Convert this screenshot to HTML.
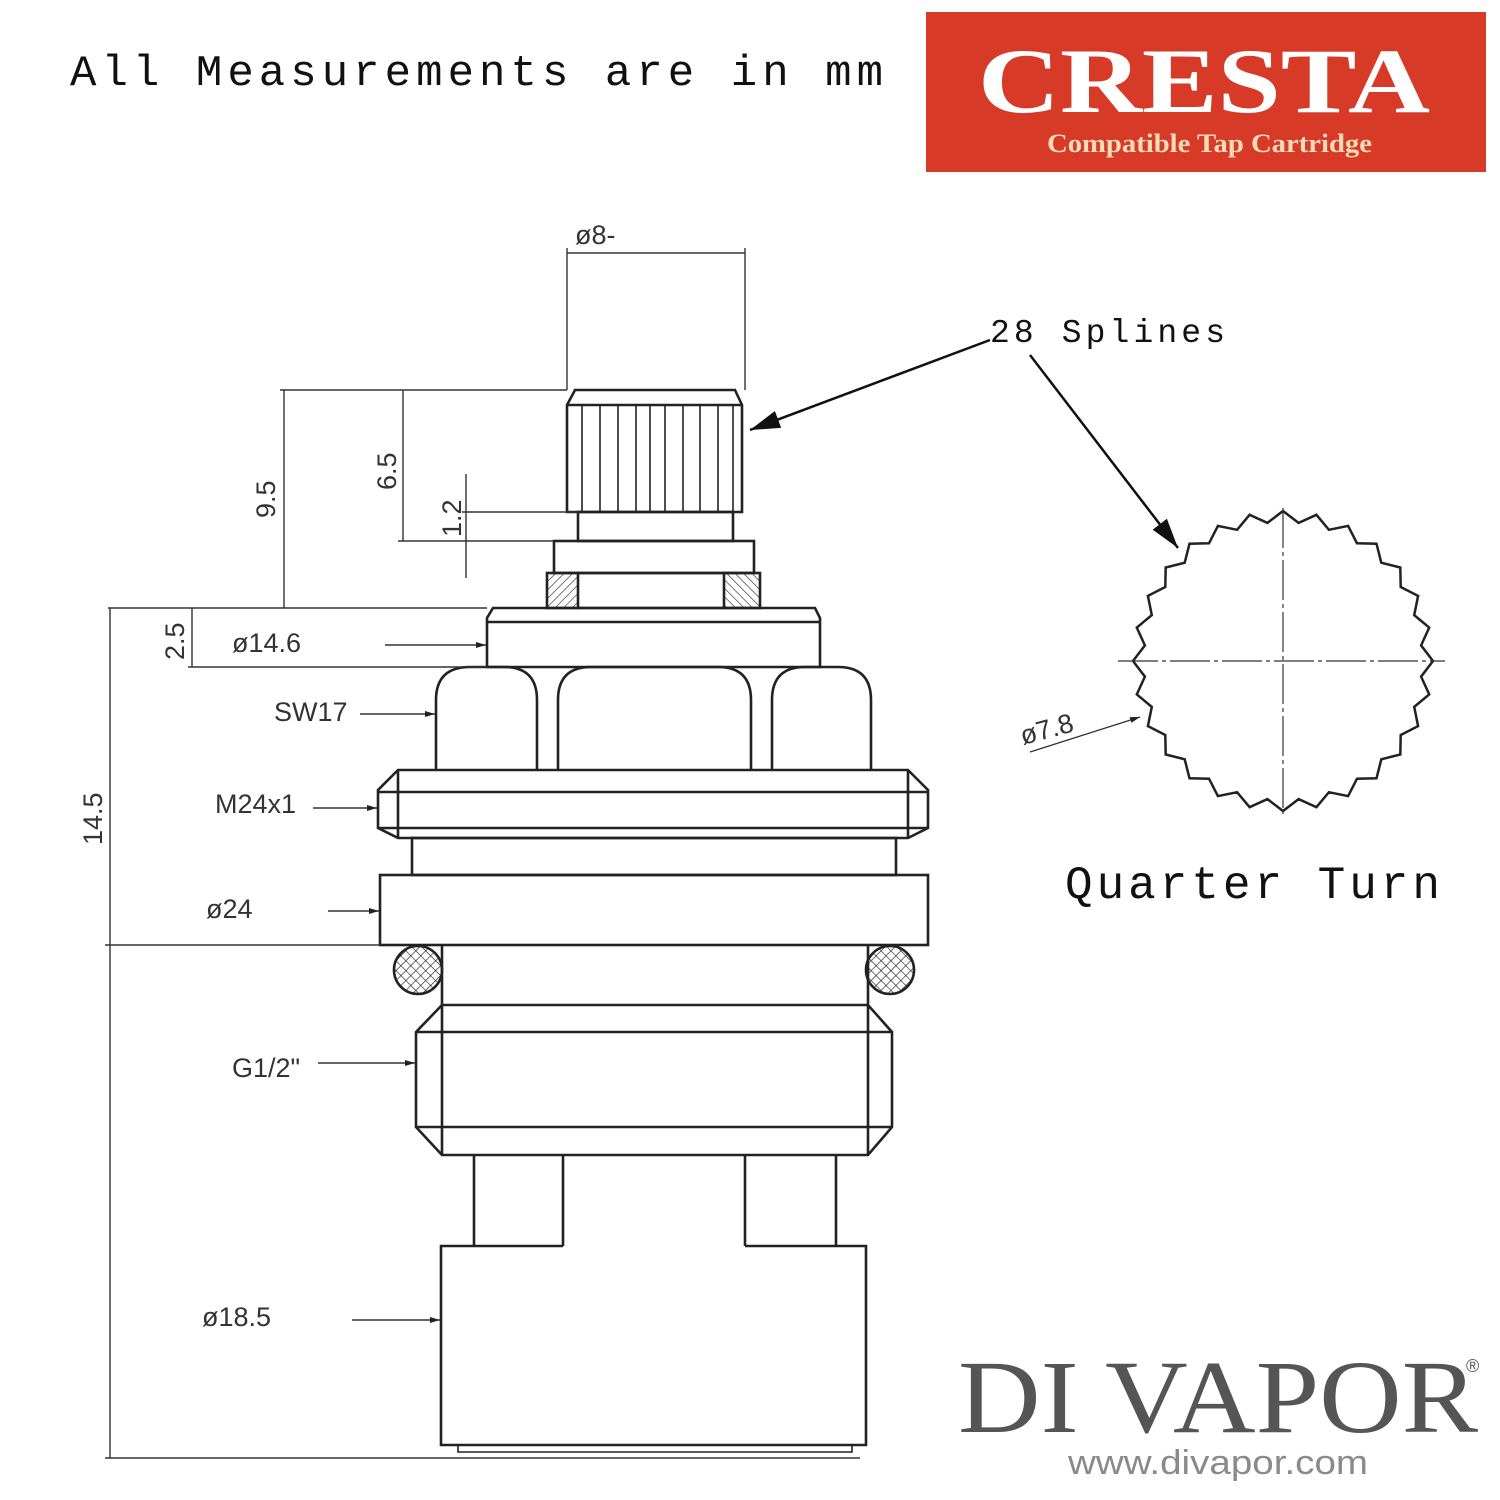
<!DOCTYPE html>
<html><head><meta charset="utf-8"><style>
body{margin:0;background:#fff;}
svg{display:block}
.m{font-family:"Liberation Mono",monospace;fill:#111}
.s{font-family:"Liberation Sans",sans-serif;fill:#333;font-size:27px}
</style></head><body>
<svg id="sv" width="1500" height="1500" viewBox="0 0 1500 1500" xmlns="http://www.w3.org/2000/svg">
<defs>
<pattern id="h1" width="6" height="6" patternUnits="userSpaceOnUse" patternTransform="rotate(45)"><line x1="0" y1="0" x2="0" y2="6" stroke="#222" stroke-width="1.2"/></pattern>
<pattern id="h2" width="6" height="6" patternUnits="userSpaceOnUse" patternTransform="rotate(-45)"><line x1="0" y1="0" x2="0" y2="6" stroke="#222" stroke-width="1.2"/></pattern>
<pattern id="x" width="7" height="7" patternUnits="userSpaceOnUse" patternTransform="rotate(45)"><path d="M0 0V7M0 0H7" stroke="#222" stroke-width="1.3" fill="none"/></pattern>
<marker id="a" markerWidth="10" markerHeight="8" refX="10" refY="4" orient="auto" markerUnits="userSpaceOnUse"><path d="M0 1L10 4L0 7z" fill="#222"/></marker>
<marker id="A" markerWidth="32" markerHeight="18" refX="30" refY="9" orient="auto" markerUnits="userSpaceOnUse"><path d="M0 0L30 9L0 18z" fill="#111"/></marker>
</defs>
<text x="70" y="85" class="m" font-size="44" textLength="813" lengthAdjust="spacing">All Measurements are in mm</text>
<rect x="926" y="12" width="560" height="160" fill="#d83a28"/>
<text x="978" y="112" font-family="Liberation Serif,serif" font-weight="bold" font-size="92" fill="#fff" textLength="452" lengthAdjust="spacingAndGlyphs">CRESTA</text>
<text x="1047" y="152" font-family="Liberation Serif,serif" font-weight="bold" font-size="26" fill="#f4dcb8" textLength="325" lengthAdjust="spacingAndGlyphs">Compatible Tap Cartridge</text>

<g fill="none" stroke="#222" stroke-width="2.6">
<path d="M575 390H735L742 405V512H567V405Z"/>
<line x1="567" y1="405" x2="742" y2="405"/>
<g stroke-width="1.6"><path d="M582 405V512M600 405V512M618 405V512M636 405V512M650 405V512M665 405V512M683 405V512M700 405V512M718 405V512M733 405V512"/></g>
<rect x="578" y="512" width="155" height="29"/>
<rect x="554" y="541" width="200" height="32"/>
<rect x="547" y="573" width="31" height="35" fill="url(#h1)"/>
<rect x="724" y="573" width="36" height="35" fill="url(#h2)"/>
<path d="M578 573H724M578 608H724"/>
<path d="M493 608H815L820 618V667H487V618Z"/>
<line x1="487" y1="622" x2="820" y2="622"/>
<path d="M436 770V700Q436 667 470 667H504Q537 667 537 700V770"/>
<path d="M558 770V700Q558 667 591 667H718Q751 667 751 700V770"/>
<path d="M772 770V700Q772 667 805 667H838Q871 667 871 700V770"/>
<path d="M398 770H908L928 790V828L908 838H398L378 828V790Z"/>
<path d="M378 792H928M378 828H928M398 770V838M908 770V838"/>
<rect x="412" y="838" width="484" height="37"/>
<rect x="380" y="875" width="548" height="70"/>
<circle cx="418" cy="970" r="24" fill="url(#x)"/>
<circle cx="890" cy="970" r="24" fill="url(#x)"/>
<path d="M442 945V1005M868 945V1005"/>
<path d="M442 1005H868L892 1032V1127L868 1155H442L416 1127V1032Z"/>
<path d="M416 1032H892M416 1127H892M442 1005V1155M868 1005V1155"/>
<path d="M474 1155V1246M563 1155V1246M745 1155V1246M836 1155V1246"/>
<path d="M563 1246H441V1445H866V1246H745"/>
<path d="M458 1445V1452H852V1445" stroke-width="1.6"/>
</g>

<g fill="none" stroke="#333" stroke-width="1.4">
<path d="M567 248V390M745 248V390"/>
<line x1="567" y1="253" x2="745" y2="253"/>
<path d="M280 390H567M398 541H554M462 512H578M108 608H487M188 667H487M105 945H380M105 1458H860"/>
<line x1="284" y1="390" x2="284" y2="608"/>
<line x1="403" y1="390" x2="403" y2="541"/>
<line x1="466" y1="474" x2="466" y2="578"/>
<line x1="192" y1="608" x2="192" y2="667"/>
<line x1="110" y1="608" x2="110" y2="945"/>
<line x1="110" y1="945" x2="110" y2="1458"/>
<line x1="385" y1="645" x2="486" y2="645" marker-end="url(#a)"/>
<line x1="360" y1="714" x2="435" y2="714" marker-end="url(#a)"/>
<line x1="313" y1="808" x2="377" y2="808" marker-end="url(#a)"/>
<line x1="328" y1="911" x2="379" y2="911" marker-end="url(#a)"/>
<line x1="318" y1="1063" x2="415" y2="1063" marker-end="url(#a)"/>
<line x1="352" y1="1320" x2="440" y2="1320" marker-end="url(#a)"/>
</g>
<text x="575" y="244" class="s">ø8-</text>
<text class="s" transform="translate(275,518) rotate(-90)">9.5</text>
<text class="s" transform="translate(396,490) rotate(-90)">6.5</text>
<text class="s" transform="translate(461,537) rotate(-90)">1.2</text>
<text class="s" transform="translate(184,660) rotate(-90)">2.5</text>
<text class="s" transform="translate(102,845) rotate(-90)">14.5</text>
<text x="232" y="652" class="s">ø14.6</text>
<text x="274" y="721" class="s">SW17</text>
<text x="215" y="813" class="s">M24x1</text>
<text x="206" y="918" class="s">ø24</text>
<text x="232" y="1077" class="s">G1/2"</text>
<text x="202" y="1326" class="s">ø18.5</text>

<text x="990" y="342" class="m" font-size="33" textLength="235" lengthAdjust="spacing">28 Splines</text>
<line x1="990" y1="340" x2="750" y2="430" stroke="#111" stroke-width="2.5" marker-end="url(#A)"/>
<line x1="1030" y1="355" x2="1178" y2="548" stroke="#111" stroke-width="2.5" marker-end="url(#A)"/>
<polygon id="sp" fill="none" stroke="#222" stroke-width="2.5"/>
<path d="M1118 661H1445M1283 508V814" stroke="#333" stroke-width="1.2" stroke-dasharray="40 4 4 4"/>
<line x1="1030" y1="752" x2="1140" y2="717" stroke="#333" stroke-width="1.4" marker-end="url(#a)"/>
<text class="s" transform="translate(1023,745) rotate(-15)">ø7.8</text>
<text x="1065" y="898" class="m" font-size="46" textLength="375" lengthAdjust="spacing">Quarter Turn</text>

<text x="958" y="1432" font-family="Liberation Serif,serif" font-size="104" fill="#555" textLength="520" lengthAdjust="spacingAndGlyphs">DI VAPOR</text>
<text x="1466" y="1372" font-family="Liberation Sans,sans-serif" font-size="18" fill="#555">®</text>
<text x="1068" y="1474" font-family="Liberation Sans,sans-serif" font-size="34" fill="#8a8a8a" textLength="300" lengthAdjust="spacingAndGlyphs">www.divapor.com</text>
</svg>
<script>
var p=[],cx=1283,cy=661,n=28;
for(var i=0;i<n*2;i++){var a=i*Math.PI/n-Math.PI/2,r=(i%2==0)?150:139;p.push((cx+r*Math.cos(a)).toFixed(1)+","+(cy+r*Math.sin(a)).toFixed(1));}
document.getElementById("sp").setAttribute("points",p.join(" "));
</script>
</body></html>
